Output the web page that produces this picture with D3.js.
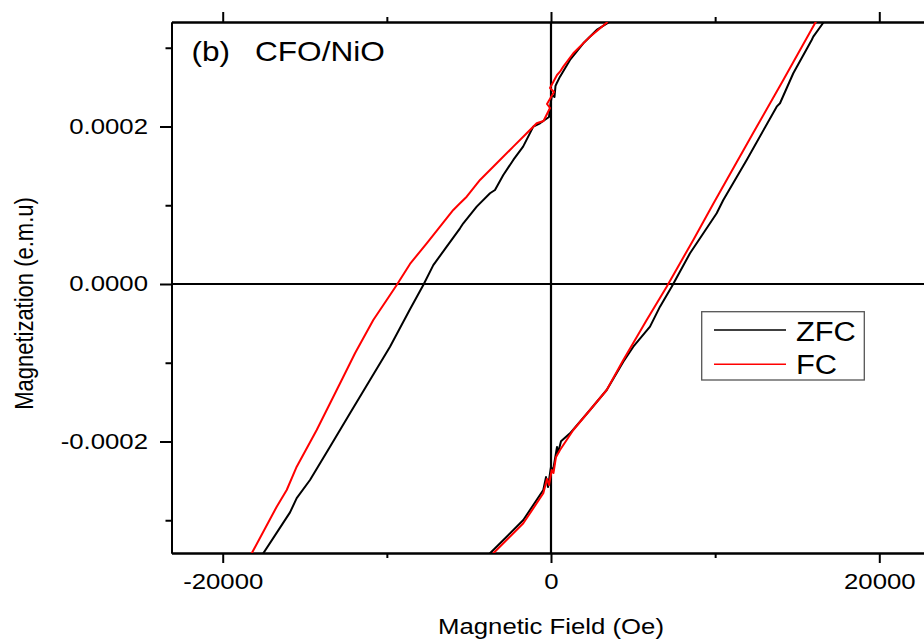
<!DOCTYPE html>
<html>
<head>
<meta charset="utf-8">
<script src="https://cdn.jsdelivr.net/npm/d3@7"></script>
<style>
  html, body { margin: 0; padding: 0; background: #fff; }
  svg { display: block; }
  text { font-family: "Liberation Sans", Arial, sans-serif; fill: #000; }
</style>
</head>
<body>
<svg id="chart" width="924" height="641"></svg>
<script>
// ---- Data (H in Oe, M in e.m.u) ----
const xMajorTicks = [-20000, 0, 20000];
const xMajorLabels = ["-20000", "0", "20000"];
const xMinorTicks = [-10000, 10000];
const yMajorTicks = [-0.0002, 0, 0.0002];
const yMajorLabels = ["-0.0002", "0.0000", "0.0002"];
const yMinorTicks = [-0.0003, -0.0001, 0.0001, 0.0003];

const seriesNames = ["ZFC", "FC"];

// ZFC descending branch
const zfcDown = [
  [4203, 3.43e-4], [3491, 3.318e-4], [2784, 3.226e-4], [1968, 3.057e-4], [1157, 2.845e-4],
  [548, 2.633e-4], [347, 2.549e-4], [274, 2.515e-4], [213, 2.375e-4], [61, 2.40e-4],
  [-30, 2.286e-4], [-122, 2.121e-4], [-670, 2.041e-4], [-1078, 1.998e-4], [-1700, 1.744e-4],
  [-2297, 1.575e-4], [-2906, 1.384e-4], [-3412, 1.194e-4], [-3716, 1.152e-4], [-4526, 0.982e-4],
  [-5343, 0.771e-4], [-5544, 0.707e-4], [-6354, 0.474e-4], [-7170, 0.240e-4], [-7779, -0.013e-4],
  [-8590, -0.320e-4], [-9808, -0.796e-4], [-11027, -1.219e-4], [-12245, -1.642e-4],
  [-13463, -2.066e-4], [-14682, -2.489e-4], [-15492, -2.720e-4], [-15900, -2.900e-4],
  [-17527, -3.420e-4], [-17850, -3.53e-4]
];
// ZFC ascending branch
const zfcUp = [
  [-4021, -3.53e-4], [-3716, -3.420e-4], [-2699, -3.209e-4], [-1687, -2.997e-4], [-469, -2.616e-4],
  [-305, -2.452e-4], [-183, -2.578e-4], [0, -2.324e-4], [122, -2.375e-4], [366, -2.070e-4],
  [427, -2.146e-4], [610, -1.998e-4], [1157, -1.896e-4], [2376, -1.600e-4], [3393, -1.346e-4],
  [4405, -0.987e-4], [5014, -0.796e-4], [6031, -0.542e-4], [6640, -0.288e-4], [7353, -0.034e-4],
  [8468, 0.390e-4], [10094, 0.898e-4], [10497, 1.067e-4], [11922, 1.575e-4], [13750, 2.252e-4],
  [13951, 2.295e-4], [14761, 2.676e-4], [15882, 3.099e-4], [15980, 3.141e-4], [16588, 3.318e-4],
  [16996, 3.43e-4]
];
// FC descending branch
const fcDown = [
  [3716, 3.43e-4], [3393, 3.318e-4], [2376, 3.141e-4], [1358, 2.930e-4], [749, 2.760e-4],
  [548, 2.696e-4], [366, 2.654e-4], [-61, 2.489e-4], [183, 2.438e-4], [-244, 2.286e-4],
  [-61, 2.235e-4], [-457, 2.07e-4], [-871, 2.041e-4], [-1480, 1.914e-4], [-2297, 1.744e-4],
  [-3308, 1.533e-4], [-4325, 1.321e-4], [-5136, 1.109e-4], [-5544, 1.025e-4], [-5952, 0.940e-4],
  [-6762, 0.728e-4], [-7572, 0.517e-4], [-8590, 0.255e-4], [-9400, -0.013e-4], [-10009, -0.203e-4],
  [-10826, -0.457e-4], [-11940, -0.880e-4], [-12750, -1.219e-4], [-13055, -1.346e-4],
  [-14274, -1.854e-4], [-15492, -2.320e-4], [-16101, -2.616e-4], [-16710, -2.828e-4],
  [-18233, -3.420e-4], [-18520, -3.53e-4]
];
// FC ascending branch
const fcUp = [
  [-3838, -3.53e-4], [-3515, -3.420e-4], [-1687, -3.039e-4], [-469, -2.658e-4], [-244, -2.476e-4],
  [-122, -2.553e-4], [43, -2.362e-4], [150, -2.400e-4], [300, -2.200e-4], [548, -2.108e-4],
  [1358, -1.854e-4], [3393, -1.346e-4], [4405, -0.965e-4], [5830, -0.457e-4], [7048, -0.034e-4],
  [8669, 0.560e-4], [9887, 1.020e-4], [12324, 1.920e-4], [14152, 2.591e-4],
  [16083, 3.311e-4], [16448, 3.43e-4]
];

const seriesColors = ["#000000", "#ff0000"];

// ---- Layout ----
const svg = d3.select("#chart");
const L = 171.5, R = 930.5, T = 22, B = 553;
const SX = 1.17;

const x = d3.scaleLinear().domain([-23120, 23120]).range([L, R]);
const y = d3.scaleLinear().domain([-3.416e-4, 3.327e-4]).range([B, T]);

svg.append("defs").append("clipPath").attr("id", "clip")
  .append("rect").attr("x", L).attr("y", T).attr("width", R - L).attr("height", B - T);

function styleAxis(g) {
  g.selectAll("path.domain").attr("stroke", "#000").attr("stroke-width", 2);
  g.selectAll(".tick line").attr("stroke", "#000").attr("stroke-width", 2);
}

// bottom axis
const gB = svg.append("g").attr("transform", `translate(0,${B})`)
  .call(d3.axisBottom(x).tickValues(xMajorTicks).tickSize(10).tickSizeOuter(0)
    .tickFormat((d, i) => xMajorLabels[i]));
gB.call(styleAxis);
gB.selectAll(".tick text")
  .attr("x", 0).attr("y", 0).attr("dy", 0)
  .attr("transform", `translate(0,36.3) scale(${SX},1)`)
  .style("font-size", "22px").attr("text-anchor", "middle");
svg.append("g").attr("transform", `translate(0,${B})`)
  .call(d3.axisBottom(x).tickValues(xMinorTicks).tickSize(5).tickSizeOuter(0).tickFormat(""))
  .call(styleAxis);

// top axis
svg.append("g").attr("transform", `translate(0,${T})`)
  .call(d3.axisTop(x).tickValues(xMajorTicks).tickSize(10).tickSizeOuter(0).tickFormat(""))
  .call(styleAxis);
svg.append("g").attr("transform", `translate(0,${T})`)
  .call(d3.axisTop(x).tickValues(xMinorTicks).tickSize(5).tickSizeOuter(0).tickFormat(""))
  .call(styleAxis);

// left axis
const gL = svg.append("g").attr("transform", `translate(${L},0)`)
  .call(d3.axisLeft(y).tickValues(yMajorTicks).tickSize(11.5).tickSizeOuter(0)
    .tickFormat((d, i) => yMajorLabels[i]));
gL.call(styleAxis);
gL.selectAll(".tick text")
  .attr("x", 0).attr("y", 0).attr("dy", 0)
  .attr("transform", `translate(-23.5,6.8) scale(${SX},1)`)
  .style("font-size", "22px").attr("text-anchor", "end");
svg.append("g").attr("transform", `translate(${L},0)`)
  .call(d3.axisLeft(y).tickValues(yMinorTicks).tickSize(6).tickSizeOuter(0).tickFormat(""))
  .call(styleAxis);

// right axis (mostly outside view)
svg.append("g").attr("transform", `translate(${R},0)`)
  .call(d3.axisRight(y).tickValues(yMajorTicks).tickSize(11.5).tickSizeOuter(0).tickFormat(""))
  .call(styleAxis);

// zero lines
svg.append("line").attr("x1", L).attr("x2", R).attr("y1", y(0)).attr("y2", y(0))
  .attr("stroke", "#000").attr("stroke-width", 2.2);
svg.append("line").attr("x1", x(0)).attr("x2", x(0)).attr("y1", T).attr("y2", B)
  .attr("stroke", "#000").attr("stroke-width", 2.2);

// curves
const line = d3.line().x(d => x(d[0])).y(d => y(d[1]));
const gC = svg.append("g").attr("clip-path", "url(#clip)");
const branches = [
  [zfcDown, 0], [zfcUp, 0], [fcDown, 1], [fcUp, 1]
];
branches.forEach(([data, si]) => {
  gC.append("path").datum(data).attr("d", line)
    .attr("fill", "none").attr("stroke", seriesColors[si])
    .attr("stroke-width", 2).attr("stroke-linejoin", "round");
});

// title
svg.append("text").attr("transform", `translate(191.5,61) scale(${SX},1)`)
  .style("font-size", "27px").text("(b)");
svg.append("text").attr("transform", `translate(255,61) scale(${SX},1)`)
  .style("font-size", "27px").text("CFO/NiO");

// axis titles
svg.append("text").attr("transform", `translate(${x(0)},634) scale(${SX},1)`)
  .attr("text-anchor", "middle").style("font-size", "22px").text("Magnetic Field (Oe)");
svg.append("text").attr("transform", `translate(33.3,303.5) scale(${SX},1) rotate(-90)`)
  .attr("text-anchor", "middle").style("font-size", "22px").text("Magnetization (e.m.u)");

// legend
const lg = svg.append("g");
lg.append("rect").attr("x", 701.7).attr("y", 311.7).attr("width", 162.6).attr("height", 68.3)
  .attr("fill", "#fff").attr("stroke", "#555").attr("stroke-width", 1.3);
const legendY = [330, 364.3];
const legendTextY = [340.7, 374.3];
seriesNames.forEach((name, i) => {
  lg.append("line").attr("x1", 714).attr("x2", 786).attr("y1", legendY[i]).attr("y2", legendY[i])
    .attr("stroke", seriesColors[i]).attr("stroke-width", 1.6);
  lg.append("text").attr("transform", `translate(796,${legendTextY[i]}) scale(1.1,1)`)
    .style("font-size", "28px").text(name);
});
</script>
</body>
</html>
